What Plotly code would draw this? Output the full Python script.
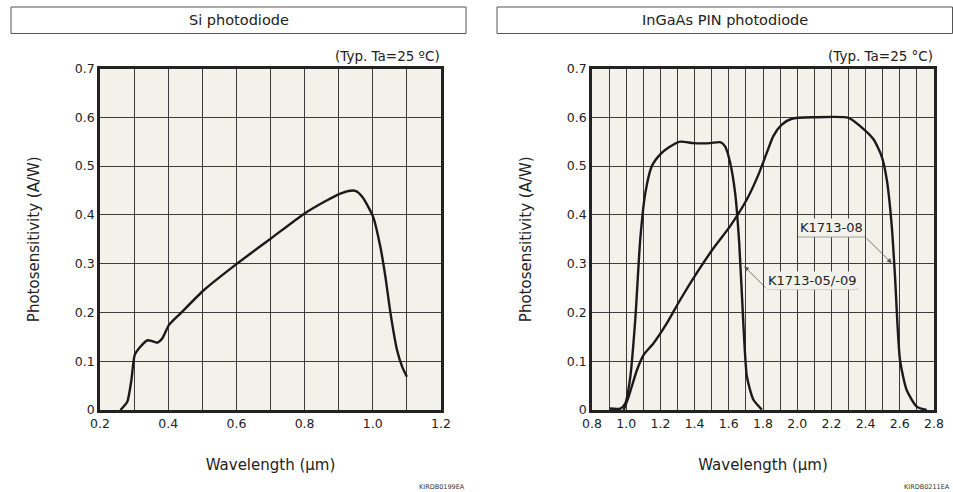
import plotly.graph_objects as go

# ---------------- data ----------------
si_wavelength = [0.26, 0.28, 0.292, 0.302, 0.319, 0.339, 0.353, 0.368, 0.383, 0.402, 0.436,
                 0.505, 0.602, 0.702, 0.80, 0.866, 0.903, 0.929, 0.949, 0.969, 1.001,
                 1.022, 1.037, 1.052, 1.071, 1.086, 1.10]
si_sens = [0.0, 0.017, 0.061, 0.113, 0.13, 0.143, 0.141, 0.138, 0.147, 0.174, 0.198,
           0.246, 0.30, 0.352, 0.403, 0.43, 0.443, 0.449, 0.449, 0.437, 0.396,
           0.335, 0.273, 0.198, 0.123, 0.089, 0.068]

k0509_wavelength = [0.903, 0.966, 0.995, 1.024, 1.053, 1.082, 1.112, 1.15, 1.199, 1.248,
                    1.316, 1.394, 1.491, 1.55, 1.579, 1.608, 1.637, 1.661, 1.686, 1.706,
                    1.744, 1.793]
k0509_sens = [0.003, 0.003, 0.014, 0.068, 0.185, 0.349, 0.445, 0.50, 0.524, 0.538,
              0.55, 0.547, 0.547, 0.549, 0.54, 0.507, 0.445, 0.342, 0.171, 0.068,
              0.021, 0.001]

k08_wavelength = [0.985, 1.014, 1.063, 1.102, 1.16, 1.238, 1.316, 1.413, 1.511, 1.608,
                  1.706, 1.774, 1.822, 1.861, 1.91, 1.968, 2.095, 2.30, 2.368, 2.446,
                  2.494, 2.524, 2.553, 2.572, 2.601, 2.64, 2.699, 2.757]
k08_sens = [0.0, 0.027, 0.082, 0.113, 0.137, 0.178, 0.226, 0.281, 0.332, 0.377,
            0.432, 0.483, 0.527, 0.562, 0.585, 0.597, 0.60, 0.599, 0.582, 0.555,
            0.52, 0.472, 0.377, 0.274, 0.103, 0.041, 0.007, 0.0]

si_xticks = [0.2, 0.4, 0.6, 0.8, 1.0, 1.2]
ingaas_xticks = [0.8, 1.0, 1.2, 1.4, 1.6, 1.8, 2.0, 2.2, 2.4, 2.6, 2.8]
y_ticks = [0, 0.1, 0.2, 0.3, 0.4, 0.5, 0.6, 0.7]
y_ticklabels = ["0", "0.1", "0.2", "0.3", "0.4", "0.5", "0.6", "0.7"]

# label anchors (data coords)
lbl08 = dict(text="K1713-08", tip=(2.553, 0.301), ul=(2.005, 2.397, 0.355), txt=(2.20, 0.374))
lbl0509 = dict(text="K1713-05/-09", tip=(1.69, 0.2945), ul=(1.823, 2.356, 0.248), txt=(2.087, 0.266))

# ---------------- style ----------------
W, H = 953, 492
FONT = "DejaVu Sans"
BG = "#F2F1EA"
GRID = "#3c3c3c"
CURVE = "#1a1a1a"
TXT = "#222222"

def px(x):
    return x / W

def py(y):
    return 1 - y / H

fig = go.Figure()
fig.add_trace(go.Scatter(x=si_wavelength, y=si_sens, mode="lines", line=dict(color=CURVE, width=2.4, shape="spline", smoothing=0.6),
                         xaxis="x", yaxis="y", showlegend=False))
fig.add_trace(go.Scatter(x=k0509_wavelength, y=k0509_sens, mode="lines", line=dict(color=CURVE, width=2.4, shape="spline", smoothing=0.6),
                         xaxis="x2", yaxis="y2", showlegend=False))
fig.add_trace(go.Scatter(x=k08_wavelength, y=k08_sens, mode="lines", line=dict(color=CURVE, width=2.4, shape="spline", smoothing=0.6),
                         xaxis="x2", yaxis="y2", showlegend=False))

common_x = dict(showgrid=True, gridcolor=GRID, gridwidth=1, zeroline=False, automargin=False,
                showline=True, linecolor="#222", linewidth=2.5, mirror=True,
                ticks="", tickfont=dict(family=FONT, size=12.5, color=TXT),
                tickformat=".1f",
                minor=dict(dtick=0.1, showgrid=True, gridcolor=GRID, gridwidth=1),
                title=dict(text="Wavelength (μm)", font=dict(family=FONT, size=15, color=TXT), standoff=30))
common_y = dict(showgrid=True, gridcolor=GRID, gridwidth=1, zeroline=False, automargin=False,
                showline=True, linecolor="#222", linewidth=2.5, mirror=True,
                ticks="", tickfont=dict(family=FONT, size=12.5, color=TXT),
                range=[0, 0.7], tickvals=y_ticks, ticktext=y_ticklabels,
                title=dict(text="Photosensitivity (A/W)", font=dict(family=FONT, size=15, color=TXT), standoff=32))

ydom = [82 / H, 423.5 / H]
fig.update_layout(
    width=W, height=H,
    margin=dict(l=0, r=0, t=0, b=0, autoexpand=False),
    paper_bgcolor="white", plot_bgcolor=BG,
    font=dict(family=FONT, color=TXT),
    xaxis=dict(common_x, domain=[px(100), px(441)], range=[0.2, 1.2], tickvals=si_xticks, anchor="y"),
    yaxis=dict(common_y, domain=ydom, anchor="x"),
    xaxis2=dict(common_x, domain=[px(592), px(934)], range=[0.8, 2.8], tickvals=ingaas_xticks, anchor="y2"),
    yaxis2=dict(common_y, domain=ydom, anchor="x2"),
)

shapes = []
annotations = []
# title boxes
for (x0, x1, title) in [(11, 466, "Si photodiode"), (497, 952.5, "InGaAs PIN photodiode")]:
    shapes.append(dict(type="rect", xref="paper", yref="paper", x0=px(x0), x1=px(x1), y0=py(33.5), y1=py(7),
                       line=dict(color="#555", width=1), fillcolor="white"))
    annotations.append(dict(xref="paper", yref="paper", x=px((x0 + x1) / 2), y=py(20.5), text=title, showarrow=False,
                            xanchor="center", yanchor="middle", font=dict(family=FONT, size=14.5, color=TXT)))

# Typ. notes
annotations.append(dict(xref="paper", yref="paper", x=px(442), y=py(56), text="(Typ. Ta=25 ºC)", showarrow=False,
                        xanchor="right", yanchor="middle", font=dict(family=FONT, size=13.5, color=TXT)))
annotations.append(dict(xref="paper", yref="paper", x=px(935), y=py(56), text="(Typ. Ta=25 °C)", showarrow=False,
                        xanchor="right", yanchor="middle", font=dict(family=FONT, size=13.5, color=TXT)))

# part codes
annotations.append(dict(xref="paper", yref="paper", x=px(417), y=py(487), text="KIRDB0199EA", showarrow=False,
                        xanchor="left", yanchor="middle", font=dict(family=FONT, size=6.5, color="#333")))
annotations.append(dict(xref="paper", yref="paper", x=px(952), y=py(487), text="KIRDB0211EA", showarrow=False,
                        xanchor="right", yanchor="middle", font=dict(family=FONT, size=6.5, color="#333")))

# curve labels
for lbl, start_left in [(lbl08, False), (lbl0509, True)]:
    ux0, ux1, uy = lbl["ul"]
    shapes.append(dict(type="line", xref="x2", yref="y2", x0=ux0, x1=ux1, y0=uy, y1=uy,
                       line=dict(color="#a0a0a0", width=1.5)))
    annotations.append(dict(xref="x2", yref="y2", x=lbl["txt"][0], y=lbl["txt"][1], text=lbl["text"], showarrow=False,
                            xanchor="center", yanchor="middle", bgcolor=BG, borderpad=1,
                            font=dict(family=FONT, size=13, color=TXT)))
    annotations.append(dict(xref="x2", yref="y2", x=lbl["tip"][0], y=lbl["tip"][1],
                            axref="x2", ayref="y2", ax=(ux0 if start_left else ux1), ay=uy,
                            text="", showarrow=True, arrowhead=2, arrowsize=1.2, arrowwidth=0.8,
                            arrowcolor="#555", standoff=0, startstandoff=0))

fig.update_layout(shapes=shapes, annotations=annotations)
fig.write_html("out.html")
